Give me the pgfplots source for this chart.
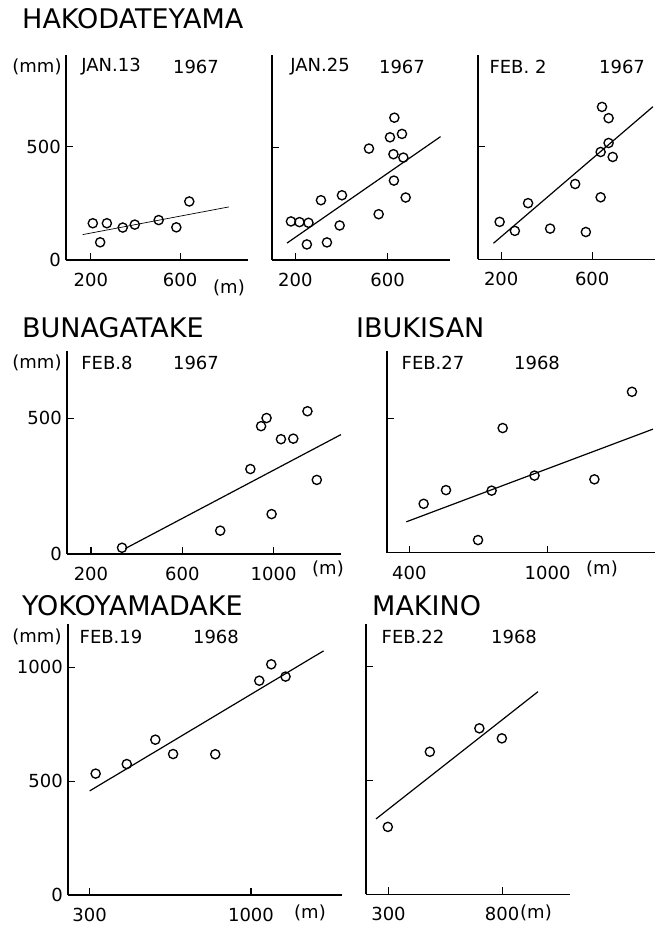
\documentclass[border=0pt]{standalone}
\usepackage{fontspec}
\setmainfont{DejaVu Sans}
\usepackage{pgfplots}
\pgfplotsset{compat=1.18}
\pgfplotsset{
  panel/.style={
    scale only axis, anchor=south west, clip=false,
    axis lines=left,
    axis line style={-, line width=1.3pt},
    every tick/.style={black, line width=1.1pt},
    ymin=0,
    tick label style={font=\fontsize{18}{18}\selectfont},
    /pgf/number format/assume math mode=true,
    /pgf/number format/set thousands separator={},
    tick align=inside, major tick length=7pt,
    xticklabel style={anchor=north, inner sep=0pt, yshift=-13pt},
    yticklabel style={anchor=east, inner sep=0pt, xshift=-5pt},
  },
  pts/.style={only marks, mark=o, mark size=4.6pt, mark options={line width=1.35pt, black}},
  fit/.style={no marks, black, line width=1.2pt},
}
\newcommand{\lab}{\fontsize{18}{18}\selectfont}
\newcommand{\ttl}{\fontsize{27}{27}\selectfont}
\begin{document}
\begin{tikzpicture}
\useasboundingbox (0pt,0pt) rectangle (656pt,925pt);
% ---------- titles ----------
\node[anchor=west, inner sep=0pt] at (22pt,906pt) {\ttl HAKODATEYAMA};
\node[anchor=west, inner sep=0pt] at (22pt,597pt) {\ttl BUNAGATAKE};
\node[anchor=west, inner sep=0pt] at (356pt,597pt) {\ttl IBUKISAN};
\node[anchor=west, inner sep=0pt] at (22pt,319pt) {\ttl YOKOYAMADAKE};
\node[anchor=west, inner sep=0pt] at (372pt,319pt) {\ttl MAKINO};
% ---------- panel 1 ----------
\begin{axis}[panel, at={(66pt,665pt)}, width=182pt, height=205pt,
  xmin=89, xmax=904, ymax=904, xtick={200,600}, ytick={0,500}]
\addplot[fit, line width=0.7pt] coordinates {(164,112) (818,234)};
\addplot[pts] coordinates {(209,162) (242,78) (272,162) (343,143) (397,156) (504,176) (583,144) (641,258)};
\end{axis}
% ---------- panel 2 ----------
\begin{axis}[panel, at={(272pt,665pt)}, width=178pt, height=205pt,
  xmin=99, xmax=870, ymax=909, xtick={200,600}, ytick={500}, yticklabels={}]
\addplot[fit] coordinates {(164,75) (829,547)};
\addplot[pts] coordinates {(181,171) (218,168) (257,165) (250,69) (311,265) (337,78) (392,153) (402,287) (519,494) (561,203) (610,544) (629,631) (662,559) (625,469) (668,454) (627,352) (678,277)};
\end{axis}
% ---------- panel 3 ----------
\begin{axis}[panel, at={(478pt,665.7pt)}, width=177pt, height=204pt,
  xmin=98, xmax=876, ymax=905, xtick={200,600}, ytick={500}, yticklabels={}]
\addplot[fit] coordinates {(166,71) (867,677)};
\addplot[pts] coordinates {(193,166) (260,126) (318,249) (415,136) (525,334) (572,121) (637,275) (637,476) (643,676) (672,626) (672,516) (690,454)};
\end{axis}
% ---------- panel 4 ----------
\begin{axis}[panel, at={(67pt,371pt)}, width=274pt, height=203pt,
  xmin=95, xmax=1295, ymax=748, xtick={200,600,1000}, ytick={0,500}]
\addplot[fit] coordinates {(350,20) (1295,440)};
\addplot[pts] coordinates {(336,23) (766,86) (898,313) (945,471) (969,501) (991,147) (1032,423) (1086,425) (1148,526) (1189,273)};
\end{axis}
% ---------- panel 5 ----------
\begin{axis}[panel, at={(387pt,372.3pt)}, width=268pt, height=202pt,
  xmin=303, xmax=1466, ymax=752, xtick={400,1000}, ytick={500}, yticklabels={}]
\addplot[fit] coordinates {(387,115) (1457,460)};
\addplot[pts] coordinates {(462,182) (559,233) (698,47) (757,231) (805,464) (943,287) (1203,273) (1366,599)};
\end{axis}
% ---------- panel 6 ----------
\begin{axis}[panel, at={(68pt,30pt)}, width=274pt, height=271pt,
  xmin=206, xmax=1395, ymax=1190, xtick={300,1000}, ytick={0,500,1000}]
\addplot[fit] coordinates {(300,457) (1315,1072)};
\addplot[pts] coordinates {(326,533) (461,575) (585,682) (662,619) (845,618) (1036,941) (1088,1013) (1150,959)};
\end{axis}
% ---------- panel 7 ----------
\begin{axis}[panel, at={(366pt,30.7pt)}, width=204pt, height=270pt,
  xmin=201, xmax=1099, ymax=1186, xtick={300,800}, ytick={500,1000}, yticklabels={}]
\addplot[fit] coordinates {(245,331) (958,890)};
\addplot[pts] coordinates {(297,296) (482,626) (700,729) (799,685)};
\end{axis}
% ---------- units and dates ----------
\foreach \y in {858,562,288} {\node[inner sep=0pt] at (37pt,\y pt) {\lab (mm)};}
\node[inner sep=0pt] at (229pt,637pt) {\lab (m)};
\node[inner sep=0pt] at (328pt,356pt) {\lab (m)};
\node[inner sep=0pt] at (602pt,356pt) {\lab (m)};
\node[inner sep=0pt] at (310pt,12pt) {\lab (m)};
\node[inner sep=0pt] at (536pt,12pt) {\lab (m)};
\node[inner sep=0pt] at (111pt,858pt) {\lab JAN.13};
\node[inner sep=0pt] at (196pt,858pt) {\lab 1967};
\node[inner sep=0pt] at (320pt,858pt) {\lab JAN.25};
\node[inner sep=0pt] at (402pt,858pt) {\lab 1967};
\node[inner sep=0pt] at (518pt,858pt) {\lab FEB. 2};
\node[inner sep=0pt] at (622pt,858pt) {\lab 1967};
\node[inner sep=0pt] at (107pt,562pt) {\lab FEB.8};
\node[inner sep=0pt] at (196pt,562pt) {\lab 1967};
\node[inner sep=0pt] at (433pt,562pt) {\lab FEB.27};
\node[inner sep=0pt] at (537pt,562pt) {\lab 1968};
\node[inner sep=0pt] at (111pt,288pt) {\lab FEB.19};
\node[inner sep=0pt] at (216pt,288pt) {\lab 1968};
\node[inner sep=0pt] at (413pt,288pt) {\lab FEB.22};
\node[inner sep=0pt] at (514pt,288pt) {\lab 1968};
\end{tikzpicture}
\end{document}
